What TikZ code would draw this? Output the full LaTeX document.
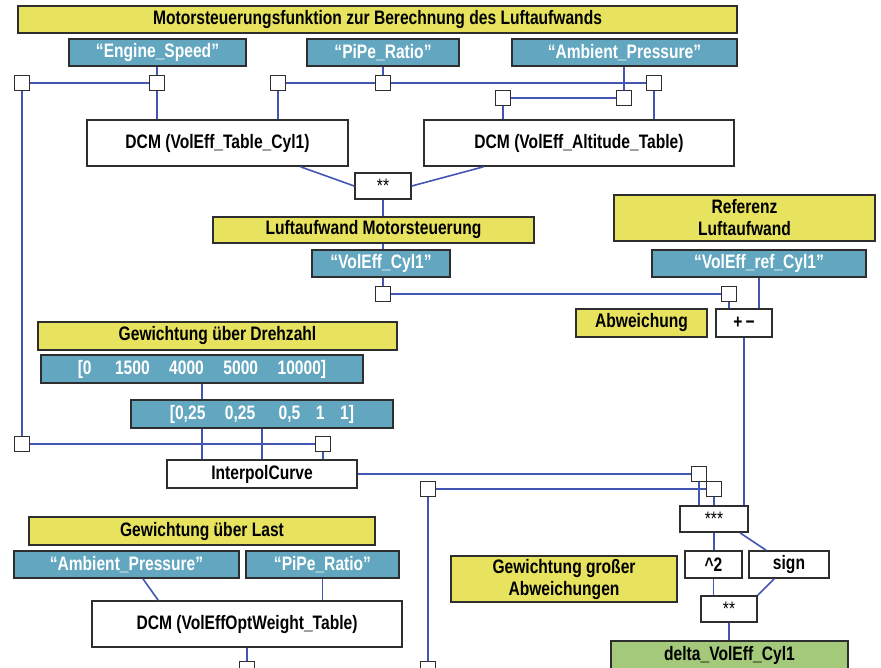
\documentclass[tikz,border=0pt]{standalone}
\usepackage{fontspec}
\setmainfont{Liberation Sans}[FakeStretch=0.8]
\usepackage{xcolor}
\usepackage{tikz}
\usetikzlibrary{positioning, calc}
\definecolor{cYellow}{HTML}{E8E35E}
\definecolor{cBlue}{HTML}{62A6BF}
\definecolor{cGreen}{HTML}{A4C97B}
\definecolor{cWire}{HTML}{4456B4}
\definecolor{cFrame}{HTML}{2E2E2E}

\begin{document}
\begin{tikzpicture}[
  x=1pt, y=-1pt,
  every node/.style={font=\fontsize{19.5}{22}\selectfont\bfseries},
  box/.style={rectangle, draw=cFrame, line width=1.6pt, fill=#1, inner sep=0pt,
              align=center},
  note/.style={box=cYellow, text=black},
  signal/.style={box=cBlue, text=white},
  result/.style={box=cGreen, text=black},
  block/.style={box=white, text=black},
  stars/.style={block, font=\fontsize{19.5}{22}\selectfont\mdseries},
  port/.style={rectangle, draw=cFrame, line width=1.6pt, fill=white,
               minimum size=15pt, inner sep=0pt},
  wire/.style={draw=cWire, line width=1.6pt},
]
\useasboundingbox (0,0) rectangle (881,668);

% Nodes
\node[note, minimum width=719, minimum height=27] (title) at (377.5,19.5)
  {Motorsteuerungsfunktion zur Berechnung des Luftaufwands};

\node[signal, minimum width=177, minimum height=27] (engine) at (157.5,52.5) {“Engine\_Speed”};
\node[signal, minimum width=152, minimum height=27] (pipeA) at (383,52.5) {“PiPe\_Ratio”};
\node[signal, minimum width=225, minimum height=27] (ambA) at (624.5,52.5) {“Ambient\_Pressure”};

\node[port] (pA1) at (22,83) {};
\node[port] (pA2) at (157,83) {};
\node[port] (pA3) at (278,83) {};
\node[port] (pA4) at (383,83) {};
\node[port] (pA5) at (654,83) {};
\node[port] (pA6) at (503,98) {};
\node[port] (pA7) at (624,98) {};

\node[block, minimum width=261, minimum height=46] (dcmA) at (217.5,143) {DCM (VolEff\_Table\_Cyl1)};
\node[block, minimum width=310, minimum height=46] (dcmB) at (579,143) {DCM (VolEff\_Altitude\_Table)};
\node[stars, minimum width=56, minimum height=26] (mulA) at (383,186) {\raisebox{-0.3em}{**}};

\node[note, minimum width=321, minimum height=26] (lmot) at (373.5,230) {Luftaufwand Motorsteuerung};
\node[signal, minimum width=138, minimum height=27] (volA) at (381,263.5) {“VolEff\_Cyl1”};
\node[port] (pB1) at (383,294) {};

\node[note, minimum width=261, minimum height=46] (ref) at (744.5,218) {Referenz\\Luftaufwand};
\node[signal, minimum width=214, minimum height=27] (volref) at (759,263.5) {“VolEff\_ref\_Cyl1”};
\node[port] (pB2) at (729,294) {};
\node[block, minimum width=56, minimum height=28] (diff) at (744,323) {+\,−};
\node[note, minimum width=131, minimum height=28] (abw) at (641.5,323) {Abweichung};

\node[note, minimum width=359, minimum height=28] (gdz) at (217.5,336) {Gewichtung über Drehzahl};
\node[signal, minimum width=322, minimum height=28] (brk) at (202,369)
  {[0\hspace{1.2em}1500\hspace{1em}4000\hspace{1em}5000\hspace{1em}10000]};
\node[signal, minimum width=262, minimum height=28] (wgt) at (262,414)
  {[0,25\hspace{1em}0,25\hspace{1.2em}0,5\hspace{0.8em}1\hspace{0.8em}1]};

\node[port] (pC1) at (22,444) {};
\node[port] (pC2) at (323,444) {};
\node[block, minimum width=190, minimum height=28] (interp) at (262,474) {InterpolCurve};

\node[port] (pD1) at (699,474) {};
\node[port] (pD2) at (714,489) {};
\node[port] (pD3) at (428,489) {};

\node[stars, minimum width=68, minimum height=26] (mulB) at (714,519) {\raisebox{-0.3em}{***}};
\node[block, minimum width=57, minimum height=27] (sq) at (713.5,564.5) {\textasciicircum 2};
\node[block, minimum width=80, minimum height=27] (sgn) at (789,564.5) {sign};
\node[stars, minimum width=56, minimum height=26] (mulC) at (729,609) {\raisebox{-0.3em}{**}};
\node[result, minimum width=237, minimum height=28] (delta) at (729.5,655) {delta\_VolEff\_Cyl1};

\node[note, minimum width=226, minimum height=46] (gga) at (564,579) {Gewichtung großer\\Abweichungen};

\node[note, minimum width=346, minimum height=28] (gul) at (202,531) {Gewichtung über Last};
\node[signal, minimum width=225, minimum height=27] (ambB) at (126.5,564.5) {“Ambient\_Pressure”};
\node[signal, minimum width=153, minimum height=27] (pipeB) at (322.5,564.5) {“PiPe\_Ratio”};
\node[block, minimum width=310, minimum height=46] (dcmC) at (247,624) {DCM (VolEffOptWeight\_Table)};

\node[port] (pE1) at (247,669) {};
\node[port] (pE2) at (428,669) {};

% Lines
\draw[wire] (pA2 |- engine.south) -- (pA2);
\draw[wire] (pA1) -- (pA2);
\draw[wire] (pA2) -- (pA2 |- dcmA.north);
\draw[wire] (pA1) -- (pC1);
\draw[wire] (pA4 |- pipeA.south) -- (pA4);
\draw[wire] (pA3) -- (pA4);
\draw[wire] (pA4) -- (pA5);
\draw[wire] (pA3) -- (pA3 |- dcmA.north);
\draw[wire] (pA5) -- (pA5 |- dcmB.north);
\draw[wire] (pA7 |- ambA.south) -- (pA7);
\draw[wire] (pA6) -- (pA7);
\draw[wire] (pA6) -- (pA6 |- dcmB.north);

\draw[wire] (dcmA.-16) -- (mulA.west);
\draw[wire] (dcmB.194) -- (mulA.east);
\draw[wire] (mulA.south) -- (mulA.south |- lmot.north);
\draw[wire] (mulA.south |- lmot.south) -- (mulA.south |- volA.north);
\draw[wire] (pB1 |- volA.south) -- (pB1);
\draw[wire] (pB1) -- (pB2);
\draw[wire] (pB2) -- (pB2 |- diff.north);
\draw[wire] (volref.south) -- (volref.south |- diff.north);
\draw[wire] (diff.south) -- (diff.south |- mulB.north);

\draw[wire] (brk.south) -- (brk.south |- wgt.north);
\draw[wire] (brk.south |- wgt.south) -- (brk.south |- interp.north);
\draw[wire] (wgt.south) -- (interp.north);
\draw[wire] (pC1) -- (pC2);
\draw[wire] (pC2) -- (pC2 |- interp.north);

\draw[wire] (interp.east) -- (pD1);
\draw[wire] (pD3) -- (pD2);
\draw[wire] (pD1) -- (pD1 |- mulB.north);
\draw[wire] (pD2) -- (pD2 |- mulB.north);
\draw[wire] (pD3) -- (pE2);

\draw[wire] (mulB.south) -- (mulB.south |- sq.north);
\draw[wire] (mulB.-28) -- (sgn.148);
\draw[wire] (sq.south) -- (sq.south |- mulC.north);
\draw[wire] (sgn.224) -- (mulC.north east);
\draw[wire] (mulC.south) -- (mulC.south |- delta.north);

\draw[wire] (ambB.-41) -- (dcmC.165);
\draw[wire] (pipeB.south) -- (pipeB.south |- dcmC.north);
\draw[wire] (dcmC.south) -- (pE1);
\draw[wire] (pE1) -- (pE2);

\end{tikzpicture}
\end{document}
